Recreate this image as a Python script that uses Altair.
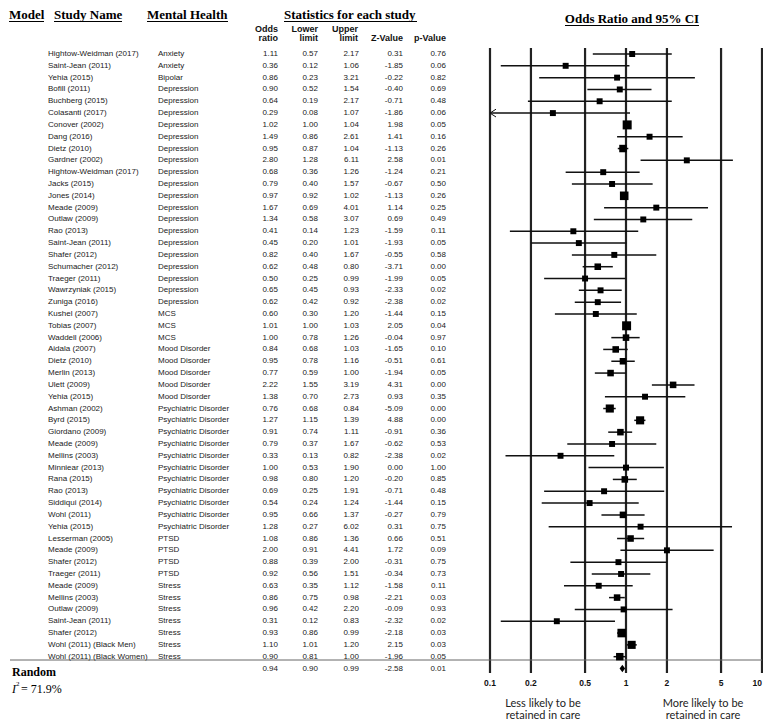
import altair as alt
import pandas as pd

# ---------------- data ----------------
studies = [
    "Hightow-Weidman (2017)", "Saint-Jean (2011)", "Yehia (2015)", "Bofill (2011)",
    "Buchberg (2015)", "Colasanti (2017)", "Conover (2002)", "Dang (2016)",
    "Dietz (2010)", "Gardner (2002)", "Hightow-Weidman (2017)", "Jacks (2015)",
    "Jones (2014)", "Meade (2009)", "Outlaw (2009)", "Rao (2013)",
    "Saint-Jean (2011)", "Shafer (2012)", "Schumacher (2012)", "Traeger (2011)",
    "Wawrzyniak (2015)", "Zuniga (2016)", "Kushel (2007)", "Tobias (2007)",
    "Waddell (2006)", "Aidala (2007)", "Dietz (2010)", "Merlin (2013)",
    "Ulett (2009)", "Yehia (2015)", "Ashman (2002)", "Byrd (2015)",
    "Giordano (2009)", "Meade (2009)", "Mellins (2003)", "Minniear (2013)",
    "Rana (2015)", "Rao (2013)", "Siddiqui (2014)", "Wohl (2011)",
    "Yehia (2015)", "Lesserman (2005)", "Meade (2009)", "Shafer (2012)",
    "Traeger (2011)", "Meade (2009)", "Mellins (2003)", "Outlaw (2009)",
    "Saint-Jean (2011)", "Shafer (2012)", "Wohl (2011) (Black Men)", "Wohl (2011) (Black Women)",
]
outcomes = (
    ["Anxiety"] * 2 + ["Bipolar"] + ["Depression"] * 19 + ["MCS"] * 3
    + ["Mood Disorder"] * 5 + ["Psychiatric Disorder"] * 11 + ["PTSD"] * 4 + ["Stress"] * 7
)
odds_ratio = [1.11, 0.36, 0.86, 0.90, 0.64, 0.29, 1.02, 1.49, 0.95, 2.80, 0.68, 0.79, 0.97,
              1.67, 1.34, 0.41, 0.45, 0.82, 0.62, 0.50, 0.65, 0.62, 0.60, 1.01, 1.00, 0.84,
              0.95, 0.77, 2.22, 1.38, 0.76, 1.27, 0.91, 0.79, 0.33, 1.00, 0.98, 0.69, 0.54,
              0.95, 1.28, 1.08, 2.00, 0.88, 0.92, 0.63, 0.86, 0.96, 0.31, 0.93, 1.10, 0.90]
lower = [0.57, 0.12, 0.23, 0.52, 0.19, 0.08, 1.00, 0.86, 0.87, 1.28, 0.36, 0.40, 0.92,
         0.69, 0.58, 0.14, 0.20, 0.40, 0.48, 0.25, 0.45, 0.42, 0.30, 1.00, 0.78, 0.68,
         0.78, 0.59, 1.55, 0.70, 0.68, 1.15, 0.74, 0.37, 0.13, 0.53, 0.80, 0.25, 0.24,
         0.66, 0.27, 0.86, 0.91, 0.39, 0.56, 0.35, 0.75, 0.42, 0.12, 0.86, 1.01, 0.81]
upper = [2.17, 1.06, 3.21, 1.54, 2.17, 1.07, 1.04, 2.61, 1.04, 6.11, 1.26, 1.57, 1.02,
         4.01, 3.07, 1.23, 1.01, 1.67, 0.80, 0.99, 0.93, 0.92, 1.20, 1.03, 1.26, 1.03,
         1.16, 1.00, 3.19, 2.73, 0.84, 1.39, 1.11, 1.67, 0.82, 1.90, 1.20, 1.91, 1.24,
         1.37, 6.02, 1.36, 4.41, 2.00, 1.51, 1.12, 0.98, 2.20, 0.83, 0.99, 1.20, 1.00]
z_value = [0.31, -1.85, -0.22, -0.40, -0.71, -1.86, 1.98, 1.41, -1.13, 2.58, -1.24, -0.67,
           -1.13, 1.14, 0.69, -1.59, -1.93, -0.55, -3.71, -1.99, -2.33, -2.38, -1.44, 2.05,
           -0.04, -1.65, -0.51, -1.94, 4.31, 0.93, -5.09, 4.88, -0.91, -0.62, -2.38, 0.00,
           -0.20, -0.71, -1.44, -0.27, 0.31, 0.66, 1.72, -0.31, -0.34, -1.58, -2.21, -0.09,
           -2.32, -2.18, 2.15, -1.96]
p_value = [0.76, 0.06, 0.82, 0.69, 0.48, 0.06, 0.05, 0.16, 0.26, 0.01, 0.21, 0.50, 0.26,
           0.25, 0.49, 0.11, 0.05, 0.58, 0.00, 0.05, 0.02, 0.02, 0.15, 0.04, 0.97, 0.10,
           0.61, 0.05, 0.00, 0.35, 0.00, 0.00, 0.36, 0.53, 0.02, 1.00, 0.85, 0.48, 0.15,
           0.79, 0.75, 0.51, 0.09, 0.75, 0.73, 0.11, 0.03, 0.93, 0.02, 0.03, 0.03, 0.05]
# relative weight (%)
weight = [1.4, 1.4, 1.4, 1.4, 1.4, 1.4, 3.2, 1.4, 2.2, 1.4, 1.4, 1.4, 2.9,
          1.4, 1.4, 1.4, 1.4, 1.4, 1.7, 1.4, 1.4, 1.4, 1.4, 3.2, 1.7, 1.7,
          1.7, 1.7, 1.7, 1.4, 2.6, 2.6, 1.7, 1.4, 1.4, 1.4, 1.7, 1.4, 1.4,
          1.7, 1.4, 1.7, 1.4, 1.4, 1.4, 1.4, 1.7, 1.4, 1.4, 2.9, 2.6, 2.2]

summary_or, summary_lower, summary_upper, summary_z, summary_p = 0.94, 0.90, 0.99, -2.58, 0.01
i_squared = "71.9%"

ticks = [0.1, 0.2, 0.5, 1, 2, 5, 10]
tick_labels = ["0.1", "0.2", "0.5", "1", "2", "5", "10"]

# ---------------- tables ----------------
fmt = lambda v: f"{v:.2f}"
df = pd.DataFrame({
    "row": list(range(1, len(studies) + 1)),
    "study": studies, "outcome": outcomes,
    "or": odds_ratio, "lower": lower, "upper": upper, "weight": weight,
    "or_s": [fmt(v) for v in odds_ratio], "lo_s": [fmt(v) for v in lower],
    "up_s": [fmt(v) for v in upper], "z_s": [fmt(v) for v in z_value],
    "p_s": [fmt(v) for v in p_value],
})
sdf = pd.DataFrame({
    "row": [len(studies) + 1], "or": [summary_or], "lower": [summary_lower], "upper": [summary_upper],
    "or_s": [fmt(summary_or)], "lo_s": [fmt(summary_lower)], "up_s": [fmt(summary_upper)],
    "z_s": [fmt(summary_z)], "p_s": [fmt(summary_p)],
})
tdf = pd.DataFrame({"tick": ticks, "label": tick_labels})

# layout: page margin 8, no padding => chart coordinate = page pixel - 8
OFF = 8
def px(v):
    return v - OFF

xscale = alt.Scale(type="log", domain=[0.1, 10], range=[px(490), px(762)], clamp=True)
yscale = alt.Scale(domain=[1, 53], range=[px(54), px(668.5)])
Y = alt.Y("row:Q", scale=yscale, axis=None)

SANS = "Liberation Sans"
NARROW = "Liberation Sans Narrow, Liberation Sans"
SERIF = "Liberation Serif"
TXT = "#222222"

layers = []

def label(txt, x, y, **kw):
    params = dict(font=SANS, fontSize=8, color=TXT, align="left", baseline="alphabetic")
    params.update(kw)
    return alt.Chart(pd.DataFrame({"t": [txt]})).mark_text(**params).encode(
        text="t:N", x=alt.value(px(x)), y=alt.value(px(y)))

def underline(x1, x2, y):
    return alt.Chart(pd.DataFrame({"t": [0]})).mark_rule(color="#000", strokeWidth=1).encode(
        x=alt.value(px(x1)), x2=alt.value(px(x2)), y=alt.value(px(y)))

# headers
for txt, x in [("Model", 9), ("Study Name", 54), ("Mental Health", 147), ("Statistics for each study", 284)]:
    layers.append(label(txt, x, 19, font=SERIF, fontSize=13, fontWeight="bold", color="#000"))
for x1, x2 in [(9, 44), (54, 122), (147, 228), (284, 417)]:
    layers.append(underline(x1, x2, 21.5))
layers.append(label("Odds Ratio and 95% CI", 632, 23, font=SERIF, fontSize=13, fontWeight="bold",
                    color="#000", align="center"))
layers.append(underline(565, 699, 25.5))

# sub headers
for l1, l2, x in [("Odds", "ratio", 278), ("Lower", "limit", 318), ("Upper", "limit", 358),
                  ("", "Z-Value", 403), ("", "p-Value", 446)]:
    if l1:
        layers.append(label(l1, x, 28.5, align="right", baseline="middle", fontWeight="bold",
                            font=NARROW, fontSize=9, color="#111"))
    layers.append(label(l2, x, 37.5, align="right", baseline="middle", fontWeight="bold",
                        font=NARROW, fontSize=9, color="#111"))

# study rows
base = alt.Chart(df)
layers.append(base.mark_text(font=SANS, fontSize=8, color=TXT, align="left", baseline="middle")
              .encode(x=alt.value(px(48)), y=Y, text="study:N"))
layers.append(base.mark_text(font=SANS, fontSize=8, color=TXT, align="left", baseline="middle")
              .encode(x=alt.value(px(158)), y=Y, text="outcome:N"))
cols = [("or_s", 278), ("lo_s", 318), ("up_s", 359), ("z_s", 403), ("p_s", 446)]
for col, x in cols:
    layers.append(base.mark_text(font=SANS, fontSize=8, color=TXT, align="right", baseline="middle")
                  .encode(x=alt.value(px(x)), y=Y, text=f"{col}:N"))
    layers.append(alt.Chart(sdf).mark_text(font=SANS, fontSize=8, color=TXT, align="right",
                                           baseline="middle")
                  .encode(x=alt.value(px(x)), y=Y, text=f"{col}:N"))

# summary labels
layers.append(label("Random", 12, 676, font=SERIF, fontSize=12, fontWeight="bold", color="#000"))
layers.append(label("I", 12, 693, font=SERIF, fontSize=12, fontStyle="italic", color="#000"))
layers.append(label("2", 16, 686, font=SERIF, fontSize=7, color="#000"))
layers.append(label("= " + i_squared, 21, 693, font=SERIF, fontSize=12, color="#000"))

# forest plot grid lines and labels
layers.append(alt.Chart(tdf).mark_rule(color="#222", strokeWidth=2.2).encode(
    x=alt.X("tick:Q", scale=xscale, axis=None), y=alt.value(px(48)), y2=alt.value(px(673))))
layers.append(alt.Chart(tdf).transform_filter("datum.tick < 10").mark_text(
    font=SANS, fontSize=8.5, fontWeight="bold", color="#111", baseline="middle").encode(
    x=alt.X("tick:Q", scale=xscale, axis=None), y=alt.value(px(683)), text="label:N"))
layers.append(alt.Chart(tdf).transform_filter("datum.tick >= 10").mark_text(
    font=SANS, fontSize=8.5, fontWeight="bold", color="#111", baseline="middle", align="right",
    dx=0).encode(
    x=alt.X("tick:Q", scale=xscale, axis=None), y=alt.value(px(683)), text="label:N"))

# horizontal separator
layers.append(alt.Chart(pd.DataFrame({"t": [0]})).mark_rule(color="#666", strokeWidth=1).encode(
    x=alt.value(px(10)), x2=alt.value(px(762)), y=alt.value(px(660))))

# CI lines, squares, arrow
layers.append(base.mark_rule(color="#111", strokeWidth=1.5).encode(
    x=alt.X("lower:Q", scale=xscale, axis=None), x2="upper:Q", y=Y))
layers.append(base.mark_square(color="#000", filled=True, opacity=1).encode(
    x=alt.X("or:Q", scale=xscale, axis=None), y=Y,
    size=alt.Size("weight:Q", scale=alt.Scale(domain=[0, 3.2], range=[0, 81]), legend=None)))
layers.append(base.transform_filter("datum.lower < 0.1").mark_point(
    shape="M 2,-1.3 L 0,0 L 2,1.3", filled=False, color="#111", strokeWidth=1, size=36, opacity=1)
    .encode(x=alt.X("lower:Q", scale=xscale, axis=None), y=Y))

# summary diamond
layers.append(alt.Chart(sdf).mark_point(shape="M -0.8,0 L 0,-1.1 L 0.8,0 L 0,1.1 Z", filled=True,
                                        color="#000", size=49, opacity=1).encode(
    x=alt.X("or:Q", scale=xscale, axis=None), y=Y))

# bottom annotations
for l1, l2, x in [("Less likely to be", "retained in care", 543),
                  ("More likely to be", "retained in care", 703)]:
    layers.append(label(l1, x, 704, font="Lato", fontSize=11, align="center", baseline="middle",
                        color="#222"))
    layers.append(label(l2, x, 715.5, font="Lato", fontSize=11, align="center", baseline="middle",
                        color="#222"))

chart = alt.layer(*layers).properties(
    width=755, height=712, padding=0,
    autosize=alt.AutoSizeParams(type="none"), background="white",
).configure_view(stroke=None)

chart.save("out.html", embed_options={"renderer": "svg", "actions": False})
